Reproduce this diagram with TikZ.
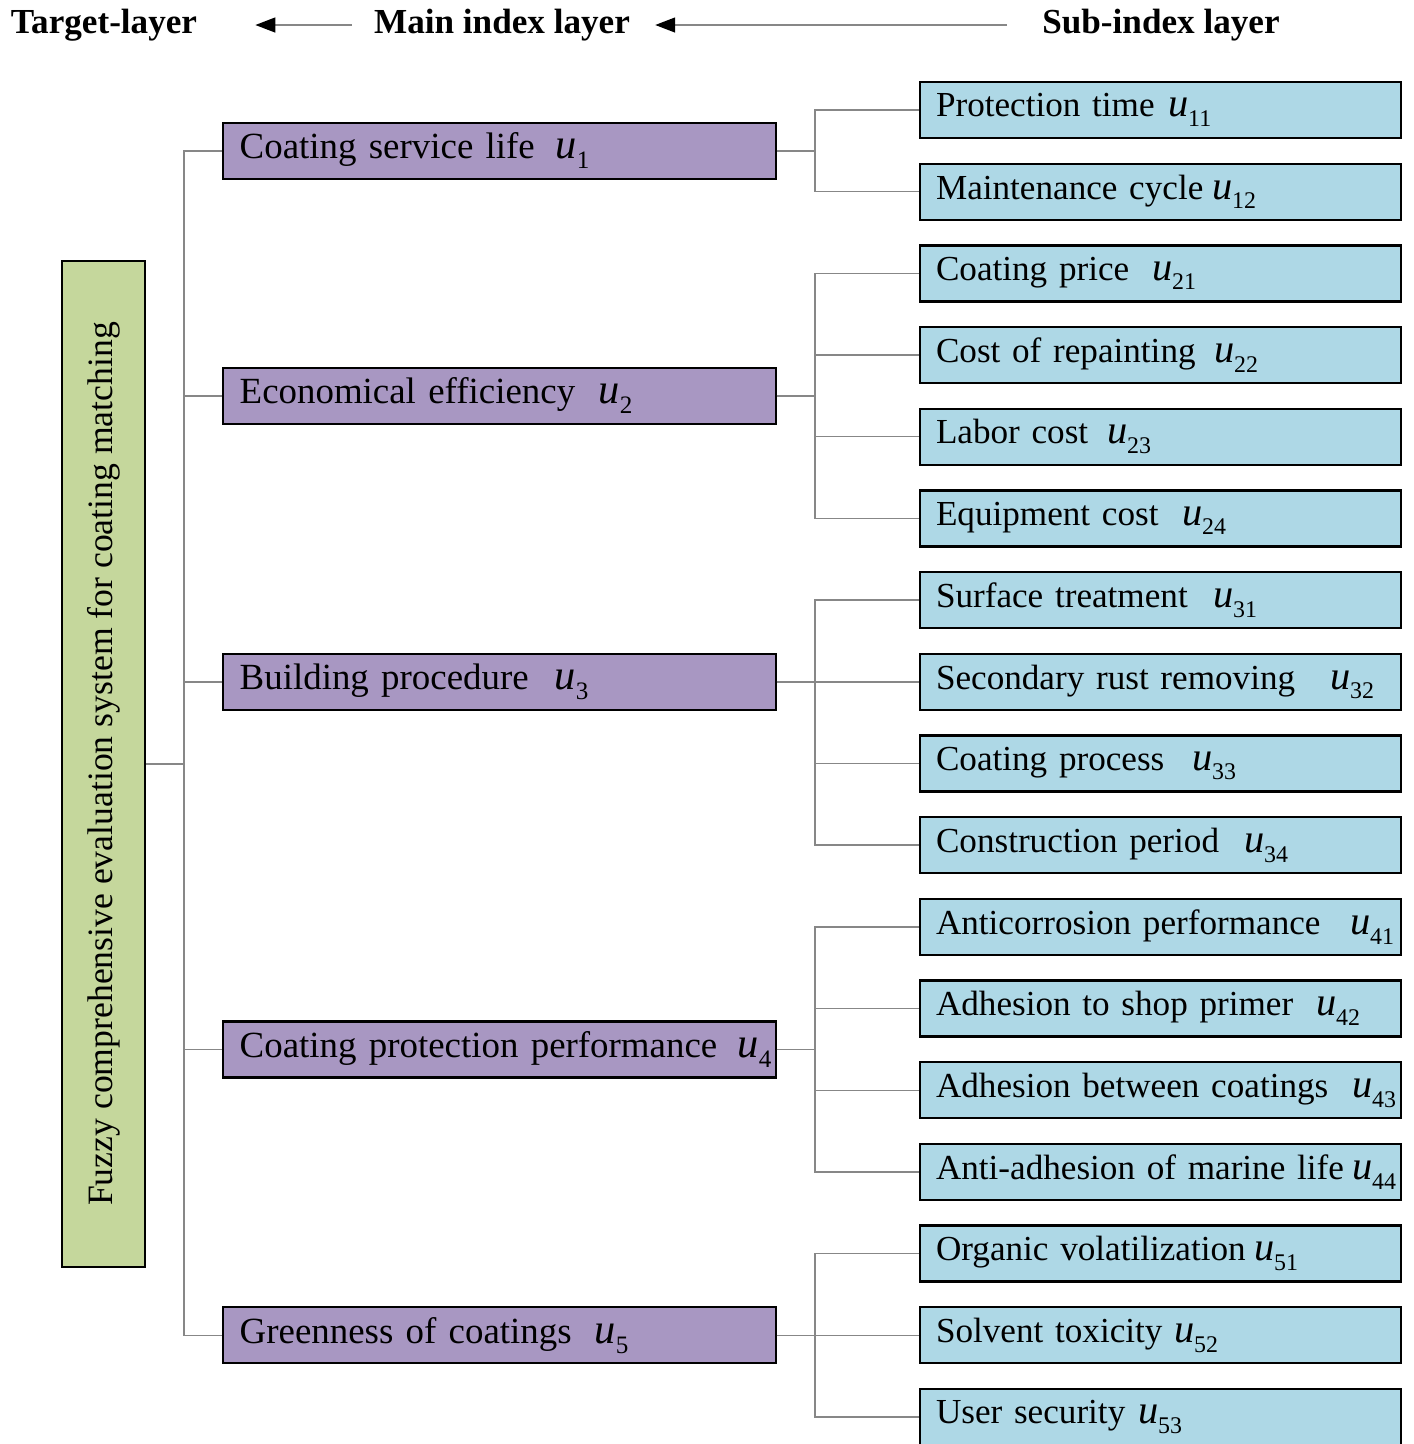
\documentclass[tikz,border=0pt]{standalone}
\usepackage{fontspec}
\setmainfont{Liberation Serif}
\usepackage{xcolor}
\usepackage{graphicx}
\usepackage{tikz}
\usetikzlibrary{positioning,calc,arrows.meta}

\definecolor{mainfill}{RGB}{168,151,194}
\definecolor{subfill}{RGB}{174,216,230}
\definecolor{tgtfill}{RGB}{197,215,156}
\definecolor{linkgray}{RGB}{135,135,135}

\newcommand{\uidx}[1]{\textit{\scalebox{1.15}{u}}\raisebox{-0.6ex}{\scalebox{0.68}{#1}}}
\newcommand{\critlabel}[3]{\makebox[#1][l]{#2}\uidx{#3}}

\tikzset{
  layer/.style={inner sep=0pt, font=\bfseries\fontsize{20}{24}\selectfont},
  layerarrow/.style={draw=linkgray, line width=0.8pt, -{Triangle[color=black, length=0.4cm, width=0.3cm]}},
  mainbox/.style={draw, line width=1.3pt, fill=mainfill, text width=10.38cm, inner xsep=0.34cm, inner ysep=2pt, minimum height=1.12cm, align=left, font=\fontsize{21}{25}\selectfont},
  subbox/.style={draw, line width=1.3pt, fill=subfill, text width=8.98cm, inner xsep=0.32cm, inner ysep=2pt, minimum height=1.12cm, align=left, font=\fontsize{20}{24}\selectfont},
  tgtbox/.style={draw, line width=1.3pt, fill=tgtfill, rotate=90, minimum width=20.12cm, minimum height=1.66cm, inner sep=0pt, font=\fontsize{20.3}{24}\selectfont},
  link/.style={draw=linkgray, line width=0.8pt}
}

\begin{document}
\begin{tikzpicture}[node distance=0.468cm]
      \useasboundingbox (0,0) rectangle (28.28,-28.88);
      % layer headings
      \node (hT) [layer] at (2.08,-0.5) {Target-layer};
      \node (hM) [layer] at (10.04,-0.5) {Main index layer};
      \node (hS) [layer] at (23.22,-0.5) {Sub-index layer};
      \draw[layerarrow, shorten <=0.44cm, shorten >=1.16cm] (hM.west) -- (hT.east);
      \draw[layerarrow, shorten <=0.70cm, shorten >=0.50cm] (hS.west) -- (hM.east);

      % sub-index layer
      \node (s11) [subbox] at (23.21,-2.2) {\critlabel{4.64cm}{Protection time}{11}};
      \node (s12) [subbox, below=of s11] {\critlabel{5.52cm}{Maintenance cycle}{12}};
      \node (s21) [subbox, below=of s12] {\critlabel{4.32cm}{Coating price}{21}};
      \node (s22) [subbox, below=of s21] {\critlabel{5.56cm}{Cost of repainting}{22}};
      \node (s23) [subbox, below=of s22] {\critlabel{3.42cm}{Labor cost}{23}};
      \node (s24) [subbox, below=of s23] {\critlabel{4.92cm}{Equipment cost}{24}};
      \node (s31) [subbox, below=of s24] {\critlabel{5.54cm}{Surface treatment}{31}};
      \node (s32) [subbox, below=of s31] {\critlabel{7.88cm}{Secondary rust removing}{32}};
      \node (s33) [subbox, below=of s32] {\critlabel{5.12cm}{Coating process}{33}};
      \node (s34) [subbox, below=of s33] {\critlabel{6.16cm}{Construction period}{34}};
      \node (s41) [subbox, below=of s34] {\critlabel{8.28cm}{Anticorrosion performance}{41}};
      \node (s42) [subbox, below=of s41] {\critlabel{7.60cm}{Adhesion to shop primer}{42}};
      \node (s43) [subbox, below=of s42] {\critlabel{8.32cm}{Adhesion between coatings}{43}};
      \node (s44) [subbox, below=of s43] {\critlabel{8.32cm}{Anti-adhesion of marine life}{44}};
      \node (s51) [subbox, below=of s44] {\critlabel{6.36cm}{Organic volatilization}{51}};
      \node (s52) [subbox, below=of s51] {\critlabel{4.76cm}{Solvent toxicity}{52}};
      \node (s53) [subbox, below=of s52] {\critlabel{4.04cm}{User security}{53}};

      % main index layer
      \coordinate (c1) at ($(s11.west)!0.5!(s12.west)$);
      \coordinate (c2) at ($(s22.west)!0.5!(s23.west)$);
      \coordinate (c4) at ($(s42.west)!0.5!(s43.west)$);
      \node (m1) [mainbox, left=2.84cm of c1] {\critlabel{6.32cm}{Coating service life}{1}};
      \node (m2) [mainbox, left=2.84cm of c2] {\critlabel{7.18cm}{Economical efficiency}{2}};
      \node (m3) [mainbox, left=2.84cm of s32.west] {\critlabel{6.30cm}{Building procedure}{3}};
      \node (m4) [mainbox, left=2.84cm of c4] {\critlabel{9.96cm}{Coating protection performance}{4}};
      \node (m5) [mainbox, left=2.84cm of s52.west] {\critlabel{7.10cm}{Greenness of coatings}{5}};

      % target layer
      \node (tgt) [tgtbox] at (2.07,-15.28) {Fuzzy comprehensive evaluation system for coating matching};

      % target to main
      \draw[link] (tgt.south) -- ++(0.76,0) |- (m1.west);
      \draw[link] (tgt.south) -- ++(0.76,0) |- (m2.west);
      \draw[link] (tgt.south) -- ++(0.76,0) |- (m3.west);
      \draw[link] (tgt.south) -- ++(0.76,0) |- (m4.west);
      \draw[link] (tgt.south) -- ++(0.76,0) |- (m5.west);

      % main to sub
      \draw[link] (m1.east) -- ++(0.76,0) |- (s11.west);
      \draw[link] (m1.east) -- ++(0.76,0) |- (s12.west);
      \draw[link] (m2.east) -- ++(0.76,0) |- (s21.west);
      \draw[link] (m2.east) -- ++(0.76,0) |- (s22.west);
      \draw[link] (m2.east) -- ++(0.76,0) |- (s23.west);
      \draw[link] (m2.east) -- ++(0.76,0) |- (s24.west);
      \draw[link] (m3.east) -- ++(0.76,0) |- (s31.west);
      \draw[link] (m3.east) -- ++(0.76,0) |- (s32.west);
      \draw[link] (m3.east) -- ++(0.76,0) |- (s33.west);
      \draw[link] (m3.east) -- ++(0.76,0) |- (s34.west);
      \draw[link] (m4.east) -- ++(0.76,0) |- (s41.west);
      \draw[link] (m4.east) -- ++(0.76,0) |- (s42.west);
      \draw[link] (m4.east) -- ++(0.76,0) |- (s43.west);
      \draw[link] (m4.east) -- ++(0.76,0) |- (s44.west);
      \draw[link] (m5.east) -- ++(0.76,0) |- (s51.west);
      \draw[link] (m5.east) -- ++(0.76,0) |- (s52.west);
      \draw[link] (m5.east) -- ++(0.76,0) |- (s53.west);
    \end{tikzpicture}
\end{document}
